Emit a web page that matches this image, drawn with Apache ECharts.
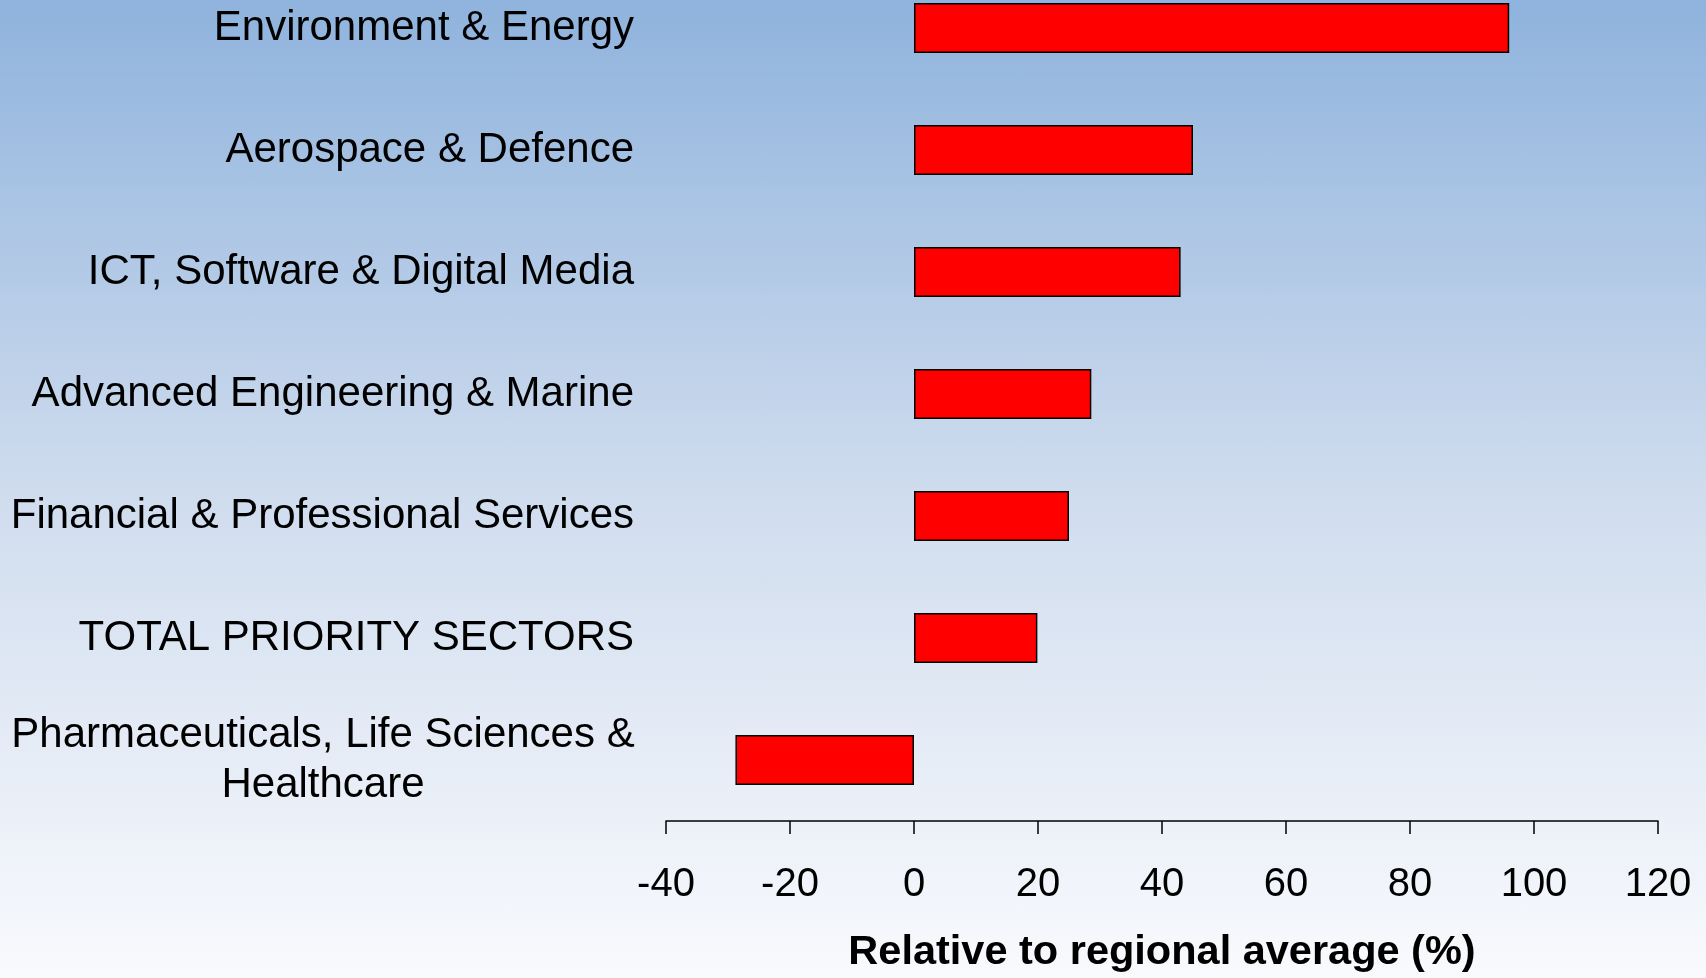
<!DOCTYPE html>
<html>
<head>
<meta charset="utf-8">
<style>
  html, body { margin: 0; padding: 0; overflow: hidden; }
  body {
    width: 1706px; height: 978px; position: relative;
    background: linear-gradient(to bottom, #8fb3dd 0%, #cfdcee 50%, #f9fafd 100%);
  }
  /* first band is cut off at the top in the original, so the chart starts above the page */
  #chart { position: absolute; left: 0; top: -33.5px; width: 1706px; height: 1011.5px; }
</style>
<script src="https://cdn.jsdelivr.net/npm/echarts@6/dist/echarts.min.js"></script>
</head>
<body>
<div id="chart"></div>
<script>
// sectors, top to bottom as in the picture
var sectors = [
  "Environment & Energy",
  "Aerospace & Defence",
  "ICT, Software & Digital Media",
  "Advanced Engineering & Marine",
  "Financial & Professional Services",
  "TOTAL PRIORITY SECTORS",
  "Pharmaceuticals, Life Sciences &\nHealthcare"
];
// % relative to regional average
var relValues = [96, 45, 43, 28.6, 25, 19.9, -28.8];
var axisTicks = [-40, -20, 0, 20, 40, 60, 80, 100, 120];

var chart = echarts.init(document.getElementById("chart"));

// the two-line label is centred on itself, the rest sit right-aligned
var catData = sectors.map(function (s) {
  if (s.indexOf("\n") >= 0) {
    return {
      value: s,
      textStyle: { align: "center", padding: [0, 622, 0, 0], lineHeight: 50 }
    };
  }
  return s;
});

chart.setOption({
  animation: false,
  backgroundColor: "transparent",
  grid: { left: 666, right: 48, top: 0, height: 859.5 },
  xAxis: {
    type: "value",
    min: axisTicks[0],
    max: axisTicks[axisTicks.length - 1],
    interval: 20,
    name: "Relative to regional average (%)",
    nameLocation: "middle",
    nameGap: 111,
    nameTextStyle: {
      fontFamily: "Liberation Sans",
      fontSize: 41.5,
      fontWeight: "bold",
      color: "#000"
    },
    splitLine: { show: false },
    axisLine: { show: true, onZero: false, lineStyle: { color: "#000", width: 1.5 } },
    axisTick: { show: true, length: 13, lineStyle: { color: "#000", width: 1.5 } },
    axisLabel: {
      margin: 44,
      fontFamily: "Liberation Sans",
      fontSize: 40,
      color: "#000"
    }
  },
  yAxis: {
    type: "category",
    inverse: true,
    data: catData,
    axisLine: { show: false },
    axisTick: { show: false },
    splitLine: { show: false },
    axisLabel: {
      interval: 0,
      margin: 32,
      fontFamily: "Liberation Sans",
      fontSize: 42,
      color: "#000"
    }
  },
  series: [
    {
      type: "bar",
      data: relValues,
      barWidth: 50,
      itemStyle: {
        color: "#ff0000",
        borderColor: "#000",
        borderWidth: 1.5
      }
    }
  ]
});
</script>
</body>
</html>
